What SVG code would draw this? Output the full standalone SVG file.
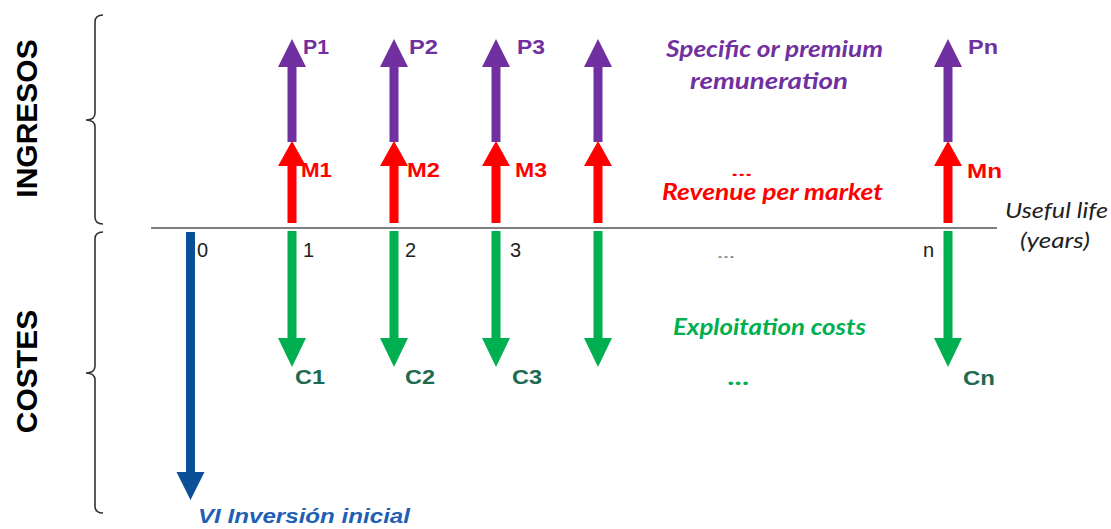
<svg xmlns="http://www.w3.org/2000/svg" width="1111" height="529" viewBox="0 0 1111 529">
<style>
.lab{font-family:"Liberation Sans",Arial,sans-serif;font-weight:bold;font-size:21px}
.pl{fill:#7030a0}
.ml{fill:#ff0000}
.cl{fill:#1d6a50}
.num{font-family:"Liberation Sans",Arial,sans-serif;font-size:20px;fill:#222}
.side{font-family:"Liberation Sans",Arial,sans-serif;font-weight:bold;font-size:30px;fill:#000;text-anchor:middle}
.cal{font-family:Lato,"Open Sans",sans-serif;font-style:italic;font-weight:bold;font-size:22px}
.ul{font-family:Lato,"Open Sans",sans-serif;font-style:italic;font-size:21px;fill:#222}
.brace{fill:none;stroke:#333;stroke-width:1.6}
.purple{fill:#7030a0}
.red{fill:#ff0000}
.green{fill:#00b050}
.blue{fill:#0b4f97}
</style>
<rect width="1111" height="529" fill="#fff"/>

<g id="side-labels">
<text class="side" transform="translate(37,118.5) rotate(-90)">INGRESOS</text>
<text class="side" transform="translate(37,371.5) rotate(-90)">COSTES</text>
<path class="brace" d="M103,15 Q95,15 95,22 L95,113 Q95,120 86,120 Q95,120 95,127 L95,217 Q95,224 103,224"/>
<path class="brace" d="M103,232 Q95,232 95,239 L95,366 Q95,373 86,373 Q95,373 95,380 L95,506 Q95,513 103,513"/>
</g>

<g id="connectors">
<line x1="151" y1="228" x2="997" y2="228" stroke="#555" stroke-width="1.6"/>
</g>

<g id="col0">
<rect class="blue" x="186" y="232" width="9" height="242"/>
<polygon class="blue" points="176.5,472 204.5,472 190.5,500"/>
<text class="num" x="197" y="257">0</text>
<text x="198" y="523" fill="#1f5fb4" textLength="212" lengthAdjust="spacingAndGlyphs" style="font-family:'Liberation Sans',Arial,sans-serif;font-size:21px;font-style:italic;font-weight:bold">VI Inversión inicial</text>
</g>

<g id="col1">
<rect class="purple" x="287.5" y="65" width="9" height="77"/>
<polygon class="purple" points="278,67 306,67 292,39"/>
<rect class="red" x="287.5" y="163" width="9" height="60"/>
<polygon class="red" points="278,166 306,166 292,141"/>
<rect class="green" x="287.5" y="231" width="9" height="109"/>
<polygon class="green" points="278,338 306,338 292,367"/>
<text class="lab pl" x="303" y="54" textLength="26" lengthAdjust="spacingAndGlyphs">P1</text>
<text class="lab ml" x="301" y="177" textLength="31" lengthAdjust="spacingAndGlyphs">M1</text>
<text class="num" x="303" y="257">1</text>
<text class="lab cl" x="295" y="384" textLength="30" lengthAdjust="spacingAndGlyphs">C1</text>
</g>

<g id="col2">
<rect class="purple" x="389.5" y="65" width="9" height="77"/>
<polygon class="purple" points="380,67 408,67 394,39"/>
<rect class="red" x="389.5" y="163" width="9" height="60"/>
<polygon class="red" points="380,166 408,166 394,141"/>
<rect class="green" x="389.5" y="231" width="9" height="109"/>
<polygon class="green" points="380,338 408,338 394,367"/>
<text class="lab pl" x="409" y="54" textLength="29" lengthAdjust="spacingAndGlyphs">P2</text>
<text class="lab ml" x="407" y="177" textLength="33" lengthAdjust="spacingAndGlyphs">M2</text>
<text class="num" x="405" y="257">2</text>
<text class="lab cl" x="405" y="384" textLength="30" lengthAdjust="spacingAndGlyphs">C2</text>
</g>

<g id="col3">
<rect class="purple" x="491.5" y="65" width="9" height="77"/>
<polygon class="purple" points="482,67 510,67 496,39"/>
<rect class="red" x="491.5" y="163" width="9" height="60"/>
<polygon class="red" points="482,166 510,166 496,141"/>
<rect class="green" x="491.5" y="231" width="9" height="109"/>
<polygon class="green" points="482,338 510,338 496,367"/>
<text class="lab pl" x="517" y="54" textLength="28" lengthAdjust="spacingAndGlyphs">P3</text>
<text class="lab ml" x="515" y="177" textLength="32" lengthAdjust="spacingAndGlyphs">M3</text>
<text class="num" x="510" y="257">3</text>
<text class="lab cl" x="512" y="384" textLength="30" lengthAdjust="spacingAndGlyphs">C3</text>
</g>

<g id="col4">
<rect class="purple" x="593.5" y="65" width="9" height="77"/>
<polygon class="purple" points="584,67 612,67 598,39"/>
<rect class="red" x="593.5" y="163" width="9" height="60"/>
<polygon class="red" points="584,166 612,166 598,141"/>
<rect class="green" x="593.5" y="231" width="9" height="109"/>
<polygon class="green" points="584,338 612,338 598,367"/>
</g>

<g id="colN">
<rect class="purple" x="943.5" y="65" width="9" height="77"/>
<polygon class="purple" points="934,67 962,67 948,39"/>
<rect class="red" x="943.5" y="163" width="9" height="60"/>
<polygon class="red" points="934,166 962,166 948,141"/>
<rect class="green" x="943.5" y="231" width="9" height="109"/>
<polygon class="green" points="934,338 962,338 948,367"/>
<text class="lab pl" x="968" y="54" textLength="30" lengthAdjust="spacingAndGlyphs">Pn</text>
<text class="lab ml" x="967" y="178" textLength="35" lengthAdjust="spacingAndGlyphs">Mn</text>
<text class="num" x="923" y="257">n</text>
<text class="lab cl" x="963" y="385" textLength="32" lengthAdjust="spacingAndGlyphs">Cn</text>
</g>

<g id="descriptions">
<text class="cal" x="666" y="57" fill="#7030a0" textLength="217" lengthAdjust="spacingAndGlyphs">Specific or premium</text>
<text class="cal" x="690" y="89" fill="#7030a0" textLength="158" lengthAdjust="spacingAndGlyphs">remuneration</text>
<text class="cal" x="732" y="176" fill="#ff0000" textLength="21" lengthAdjust="spacingAndGlyphs" style="font-size:16px">...</text>
<text class="cal" x="662" y="200" fill="#ff0000" textLength="221" lengthAdjust="spacingAndGlyphs">Revenue per market</text>
<text class="cal" x="673" y="335" fill="#00b050" textLength="193" lengthAdjust="spacingAndGlyphs">Exploitation costs</text>
<text class="cal" x="728" y="385" fill="#00b050" textLength="22" lengthAdjust="spacingAndGlyphs">...</text>
<text class="ul" x="717" y="258" style="fill:#888;font-style:normal;font-size:16px" textLength="18" lengthAdjust="spacingAndGlyphs">...</text>
<text class="ul" x="1005" y="218" textLength="103" lengthAdjust="spacingAndGlyphs">Useful life</text>
<text class="ul" x="1020" y="248" textLength="70" lengthAdjust="spacingAndGlyphs">(years)</text>
</g>
</svg>
